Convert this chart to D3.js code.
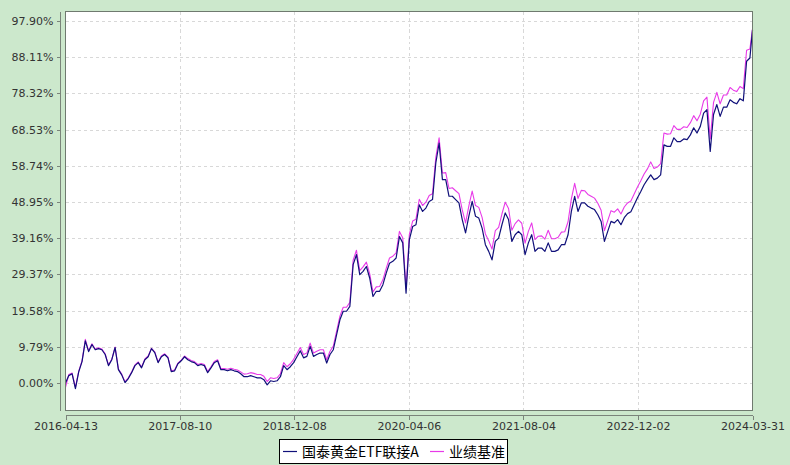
<!DOCTYPE html>
<html><head><meta charset="utf-8">
<script src="https://cdn.jsdelivr.net/npm/d3@7"></script>
<style>body{margin:0;background:#cce8cc;} svg{display:block;}</style>
</head><body>
<svg id="c" width="790" height="465"></svg>
<script>
// ---- data ----
const startDate = "2016-04-13";
const endDate = "2024-03-31";
const stepDays = 14; // sampling interval of the series (last point = endDate)
const xTickLabels = ["2016-04-13","2017-08-10","2018-12-08","2020-04-06","2021-08-04","2022-12-02","2024-03-31"];
const yTickValues = [0, 9.79, 19.58, 29.37, 39.16, 48.95, 58.74, 68.53, 78.32, 88.11, 97.90];
const yTickLabels = ["0.00%","9.79%","19.58%","29.37%","39.16%","48.95%","58.74%","68.53%","78.32%","88.11%","97.90%"];
const seriesNames = ["国泰黄金ETF联接A", "业绩基准"];
const fundValues = [
0.0, 2.0, 2.5, -1.5, 3.0, 5.8, 11.4, 8.5, 10.4, 9.0,
9.3, 9.0, 7.7, 4.7, 6.3, 9.6, 3.6, 2.2, 0.1, 1.2,
2.8, 4.7, 5.5, 4.1, 6.3, 7.1, 9.3, 8.2, 5.5, 7.1,
7.7, 6.8, 3.1, 3.3, 5.2, 6.0, 7.1, 6.3, 5.8, 5.5,
4.7, 5.0, 4.7, 2.8, 4.1, 5.5, 6.0, 3.6, 3.6, 3.3,
3.6, 3.3, 3.1, 2.5, 1.7, 1.7, 2.0, 1.7, 1.4, 1.4,
0.9, -0.5, 0.6, 0.4, 0.6, 1.7, 4.7, 3.6, 4.4, 5.5,
7.1, 8.7, 6.8, 7.2, 9.9, 7.2, 7.7, 8.1, 8.1, 5.4,
7.7, 9.0, 13.1, 17.1, 19.4, 19.4, 20.7, 32.0, 34.7, 29.3,
30.2, 31.5, 28.4, 23.4, 24.8, 24.8, 26.6, 29.7, 32.4, 32.9,
33.8, 39.6, 37.9, 24.3, 38.8, 42.3, 42.8, 48.2, 46.4, 47.3,
49.1, 49.6, 59.5, 64.9, 55.0, 55.0, 50.5, 50.5, 49.6, 48.7,
44.2, 40.6, 45.1, 49.1, 45.1, 44.6, 41.9, 37.4, 35.6, 33.3,
38.3, 39.2, 42.8, 46.0, 44.2, 38.3, 40.1, 41.0, 40.1, 34.7,
37.9, 40.1, 35.6, 36.5, 36.5, 35.6, 37.9, 35.6, 35.6, 36.0,
37.4, 37.4, 40.1, 46.4, 50.5, 46.4, 48.7, 48.7, 47.8, 47.3,
46.9, 45.5, 43.7, 38.3, 41.0, 43.7, 43.3, 44.2, 42.8, 44.7,
45.8, 46.3, 48.2, 50.1, 51.8, 53.6, 55.0, 56.3, 55.0, 55.4,
56.3, 64.4, 64.0, 64.0, 66.3, 65.3, 65.3, 66.0, 65.8, 67.1,
69.0, 67.6, 69.4, 73.0, 73.9, 62.6, 72.6, 75.3, 72.1, 74.6,
74.6, 76.6, 75.9, 75.5, 76.9, 76.3, 87.0, 87.9, 95.5
];
const benchValues = [
-1.2, 2.3, 2.7, -1.2, 3.2, 6.0, 11.8, 8.7, 10.6, 9.2,
9.5, 9.2, 7.9, 4.9, 6.4, 9.7, 3.8, 2.4, 0.3, 1.4,
3.0, 4.9, 5.7, 4.3, 6.5, 7.3, 9.4, 8.4, 5.7, 7.3,
7.9, 7.0, 3.3, 3.5, 5.4, 6.2, 7.3, 6.6, 6.1, 5.8,
5.0, 5.3, 5.0, 3.1, 4.4, 5.8, 6.3, 3.9, 3.9, 3.7,
4.0, 3.7, 3.5, 3.0, 2.4, 2.5, 2.8, 2.6, 2.3, 2.3,
1.8, 0.4, 1.4, 1.2, 1.4, 2.5, 5.5, 4.4, 5.2, 6.4,
8.0, 9.6, 7.7, 8.1, 10.8, 8.1, 8.6, 9.0, 9.0, 6.3,
8.6, 10.0, 14.0, 18.1, 20.5, 20.5, 21.8, 33.2, 35.9, 30.4,
31.4, 32.7, 29.6, 24.6, 26.0, 26.1, 27.9, 31.0, 33.8, 34.3,
35.2, 41.0, 39.3, 25.5, 40.2, 43.8, 44.3, 49.7, 48.0, 48.9,
50.7, 51.2, 61.0, 66.3, 56.8, 56.9, 52.6, 52.8, 52.0, 51.2,
46.8, 43.3, 47.9, 51.9, 48.0, 47.5, 44.8, 40.3, 38.5, 36.2,
41.2, 42.1, 45.7, 48.9, 47.2, 41.3, 43.1, 44.1, 43.2, 37.8,
41.0, 43.3, 38.8, 39.7, 39.8, 38.9, 41.3, 39.0, 39.0, 39.4,
40.8, 40.9, 43.6, 49.8, 54.0, 49.9, 52.1, 52.0, 51.0, 50.5,
50.0, 48.6, 46.7, 41.2, 43.9, 46.6, 46.2, 47.1, 45.7, 47.6,
48.7, 49.2, 51.1, 53.0, 54.7, 56.5, 57.9, 59.8, 58.0, 58.4,
59.3, 67.6, 67.3, 67.4, 69.6, 68.6, 68.6, 69.3, 69.1, 70.4,
72.3, 70.9, 72.7, 76.3, 77.3, 66.0, 75.9, 78.6, 75.5, 77.9,
77.9, 79.9, 79.2, 78.8, 80.2, 79.6, 90.0, 90.3, 95.8
];
const colors = {fund: "#10107a", bench: "#e83ae8"};

// ---- build ----
const parse = d3.timeParse("%Y-%m-%d");
const t0 = parse(startDate), t1 = parse(endDate);
const dates = fundValues.map((_, i) => i === fundValues.length - 1 ? t1 : d3.timeDay.offset(t0, i * stepDays));

const L = 65.5, R = 752.5, T = 11.5, B = 410.5;
const x = d3.scaleTime().domain([t0, t1]).range([L, R]);
const y = d3.scaleLinear().domain([-7.3, 100.6]).range([410, 11]);

const svg = d3.select("#c");
const font = "'DejaVu Sans', Verdana, sans-serif";

// plot background
svg.append("rect").attr("x", L).attr("y", T).attr("width", R - L).attr("height", B - T).attr("fill", "#fff");

// grid
const g = svg.append("g").attr("shape-rendering", "crispEdges");
g.selectAll("line.h").data(yTickValues).join("line")
  .attr("x1", L).attr("x2", R)
  .attr("y1", d => Math.round(y(d)) + 0.5).attr("y2", d => Math.round(y(d)) + 0.5)
  .attr("stroke", "#d8d8d8").attr("stroke-dasharray", "3,3");
g.selectAll("line.v").data(xTickLabels.slice(1, -1)).join("line")
  .attr("x1", d => Math.round(x(parse(d))) + 0.5).attr("x2", d => Math.round(x(parse(d))) + 0.5)
  .attr("y1", T).attr("y2", B)
  .attr("stroke", "#d8d8d8").attr("stroke-dasharray", "3,3");

// lines
const line = vals => d3.line().x((d, i) => x(dates[i])).y(d => y(d))(vals);
svg.append("path").attr("d", line(benchValues)).attr("fill", "none")
  .attr("stroke", colors.bench).attr("stroke-width", 1.1).attr("stroke-linejoin", "round");
svg.append("path").attr("d", line(fundValues)).attr("fill", "none")
  .attr("stroke", colors.fund).attr("stroke-width", 1.2).attr("stroke-linejoin", "round");

// plot border
svg.append("rect").attr("x", L).attr("y", T).attr("width", R - L).attr("height", B - T)
  .attr("fill", "none").attr("stroke", "#6f7a6f").attr("shape-rendering", "crispEdges");

// y axis
const yAxis = d3.axisLeft(y).tickValues(yTickValues).tickFormat((d, i) => yTickLabels[i]).tickSize(4).tickPadding(3);
const ya = svg.append("g").attr("transform", "translate(60.5,0)").call(yAxis);
ya.select(".domain").attr("d", `M0,${T}V${B}`);
// x axis
const xAxis = d3.axisBottom(x).tickValues(xTickLabels.map(parse)).tickFormat((d, i) => xTickLabels[i]).tickSize(4).tickPadding(3);
const xa = svg.append("g").attr("transform", "translate(0,415.5)").call(xAxis);
xa.select(".domain").attr("d", `M${L},0H${R}`);
[ya, xa].forEach(a => {
  a.attr("shape-rendering", "crispEdges");
  a.selectAll(".domain, .tick line").attr("stroke", "#7a847a");
  a.selectAll("text").attr("fill", "#333").style("font-family", font).style("font-size", "11px").attr("shape-rendering", null);
});

// legend
const lg = svg.append("g");
lg.append("rect").attr("x", 279.5).attr("y", 439.5).attr("width", 228).attr("height", 24)
  .attr("fill", "#fff").attr("stroke", "#000").attr("shape-rendering", "crispEdges");
const items = [
  {name: seriesNames[0], color: colors.fund, x0: 283},
  {name: seriesNames[1], color: colors.bench, x0: 430}
];
items.forEach(it => {
  lg.append("line").attr("x1", it.x0).attr("x2", it.x0 + 14).attr("y1", 451.5).attr("y2", 451.5)
    .attr("stroke", it.color).attr("stroke-width", 1.2);
  lg.append("text").attr("x", it.x0 + 19).attr("y", 456.5).text(it.name)
    .attr("fill", "#000").style("font-family", "'Noto Sans CJK SC', sans-serif").style("font-size", "14px");
});
</script>
</body></html>
